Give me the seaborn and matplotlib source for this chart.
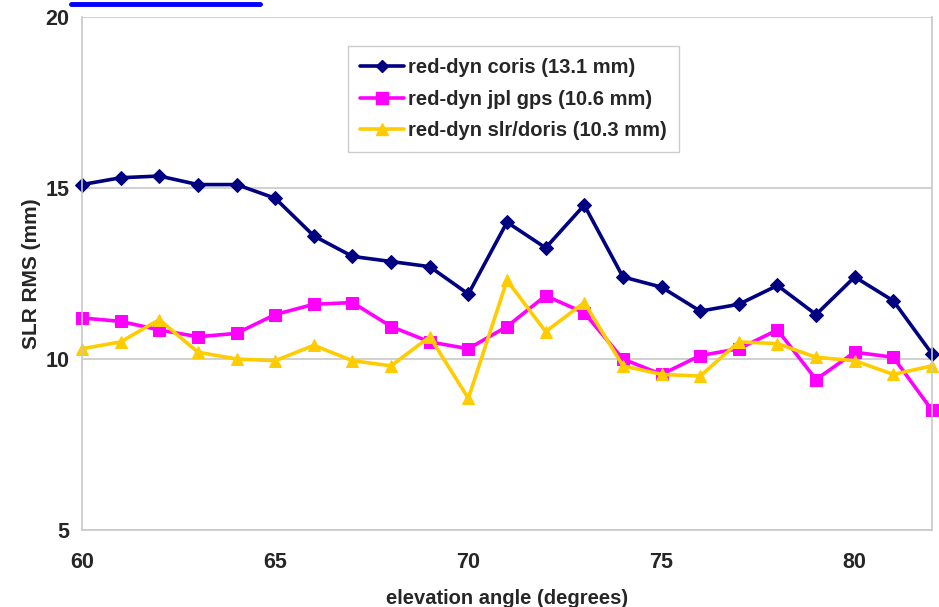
import matplotlib
matplotlib.use("Agg")
import matplotlib.pyplot as plt
import matplotlib.lines as mlines
import numpy as np
import pandas as pd
import seaborn as sns

elevation = list(range(60, 83))
coris = [15.1, 15.3, 15.35, 15.1, 15.1, 14.7, 13.6, 13.0, 12.85, 12.7, 11.9, 14.0,
         13.25, 14.5, 12.4, 12.1, 11.4, 11.6, 12.15, 11.3, 12.4, 11.7, 10.15]
jpl_gps = [11.2, 11.1, 10.85, 10.65, 10.75, 11.3, 11.6, 11.65, 10.95, 10.5, 10.3, 10.95,
           11.85, 11.35, 10.0, 9.55, 10.1, 10.3, 10.85, 9.4, 10.2, 10.05, 8.5]
slr_doris = [10.3, 10.5, 11.15, 10.2, 10.0, 9.95, 10.4, 9.95, 9.8, 10.65, 8.85, 12.3,
             10.8, 11.65, 9.8, 9.55, 9.5, 10.5, 10.45, 10.05, 9.95, 9.55, 9.8]
labels = ["red-dyn coris (13.1 mm)", "red-dyn jpl gps (10.6 mm)", "red-dyn slr/doris (10.3 mm)"]
x_ticks = [60, 65, 70, 75, 80]
y_ticks = [5, 10, 15, 20]

df = pd.DataFrame({
    "elevation": elevation * 3,
    "rms": coris + jpl_gps + slr_doris,
    "series": [labels[0]] * len(elevation) + [labels[1]] * len(elevation) + [labels[2]] * len(elevation),
})

sns.set_style("white")
plt.rcParams["font.family"] = ["Liberation Sans", "DejaVu Sans"]

colors = {labels[0]: "#000080", labels[1]: "#FF00FF", labels[2]: "#FFCC00"}
markers = {labels[0]: "D", labels[1]: "s", labels[2]: "^"}
msizes = {labels[0]: 7.5, labels[1]: 9, labels[2]: 9}

fig = plt.figure(figsize=(9.39, 6.07), dpi=100)
ax = fig.add_axes([82 / 939, 1 - 530 / 607, (932 - 82) / 939, (530 - 17) / 607])

for lab in labels:
    sub = df[df["series"] == lab]
    sns.lineplot(data=sub, x="elevation", y="rms", ax=ax, color=colors[lab],
                 marker=markers[lab], markersize=msizes[lab], markeredgecolor=colors[lab],
                 linewidth=2.6, label=lab, legend=False, clip_on=False)

ax.set_xlim(60, 82)
ax.set_ylim(5, 20)
ax.set_xticks(x_ticks)
ax.set_yticks(y_ticks)
ax.set_xticklabels([str(t) for t in x_ticks], fontsize=15.5, fontweight="bold")
ax.set_yticklabels([str(t) for t in y_ticks], fontsize=15.5, fontweight="bold")
ax.yaxis.grid(True, color="#c8c8c8", linewidth=1.2)
ax.xaxis.grid(False)
ax.set_axisbelow(True)
for side in ["left", "bottom", "right"]:
    ax.spines[side].set_color("#c8c8c8")
    ax.spines[side].set_linewidth(1.2)
ax.spines["top"].set_visible(False)
ax.tick_params(axis="x", direction="out", length=5, color="#c8c8c8", pad=11)
ax.tick_params(axis="y", direction="out", length=5, color="#c8c8c8", pad=4)

ax.set_xlabel("elevation angle (degrees)", fontsize=14.5, fontweight="bold", labelpad=11)
ax.set_ylabel("SLR RMS (mm)", fontsize=15, fontweight="bold", labelpad=3)

handles = [mlines.Line2D([], [], color=colors[l], marker=markers[l], markersize=msizes[l] - 1,
                         linewidth=2.6) for l in labels]
leg = ax.legend(handles, labels, loc="upper left",
                bbox_to_anchor=((348 - 82) / 850, 1 - (46 - 17) / 513),
                frameon=True, fancybox=False, edgecolor="#c0c0c0",
                prop={"weight": "bold", "size": 14.5}, handlelength=2.2, handletextpad=0.2,
                borderpad=0.6, labelspacing=0.62, borderaxespad=0)
leg.get_frame().set_linewidth(1.0)

fig.add_artist(mlines.Line2D([71 / 939, 260 / 939], [1 - 4 / 607, 1 - 4 / 607],
                             color="#0000FF", linewidth=3.5, transform=fig.transFigure))

fig.savefig("out.png", dpi=100)
